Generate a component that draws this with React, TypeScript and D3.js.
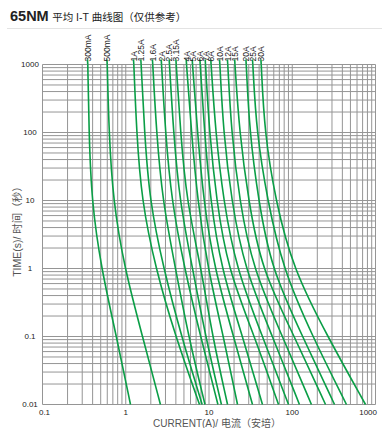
import React from 'react';
import * as d3 from 'd3';

// Time axis sample points (seconds) for every curve
const TIMES = [1000, 100, 10, 1, 0.1, 0.01];

// Fuse ratings (curve labels)
const RATINGS = ['300mA', '500mA', '1A', '1.25A', '1.6A', '2A', '2.5A', '3.15A', '4A', '5A', '6A', '7A', '8A', '10A', '12A', '15A', '20A', '25A', '30A'];

// Current (A) at each of TIMES
const I_300mA = [0.35, 0.362, 0.388, 0.507, 0.774, 1.14];
const I_500mA = [0.599, 0.629, 0.703, 0.966, 1.59, 2.61];
const I_1A = [1.25, 1.35, 1.55, 2.28, 3.96, 7.69];
const I_1_25A = [1.53, 1.68, 1.93, 2.84, 4.67, 8.28];
const I_1_6A = [2.11, 2.34, 2.76, 3.96, 5.67, 8.95];
const I_2A = [2.69, 3.0, 3.54, 5.08, 7.91, 12.8];
const I_2_5A = [3.35, 3.75, 4.42, 6.34, 9.08, 14.1];
const I_3_15A = [4.04, 4.55, 5.37, 8.06, 11.0, 16.7];
const I_4A = [5.37, 6.16, 7.28, 9.67, 14.9, 22.0];
const I_5A = [6.34, 7.28, 8.59, 11.6, 19.7, 33.3];
const I_6A = [7.84, 8.83, 10.4, 14.0, 25.3, 43.9];
const I_7A = [9.08, 10.1, 12.3, 16.8, 35.2, 68.4];
const I_8A = [10.6, 12.0, 14.9, 21.2, 43.9, 90.2];
const I_10A = [13.5, 14.9, 18.6, 26.7, 57.9, 122];
const I_12A = [16.8, 18.6, 23.2, 33.6, 76.3, 170];
const I_15A = [20.5, 23.2, 29.8, 42.4, 106, 251];
const I_20A = [28.0, 30.7, 39.3, 55.9, 133, 322];
const I_25A = [33.6, 37.2, 50.4, 77.0, 175, 448];
const I_30A = [42.4, 46.4, 62.9, 102, 265, 759];

const SERIES = [I_300mA, I_500mA, I_1A, I_1_25A, I_1_6A, I_2A, I_2_5A, I_3_15A, I_4A, I_5A, I_6A, I_7A, I_8A, I_10A, I_12A, I_15A, I_20A, I_25A, I_30A];

const X_TICKS = [0.1, 1, 10, 100, 1000];
const X_TICK_LABELS = ['0.1', '1', '10', '100', '1000'];
const Y_TICKS = [1000, 100, 10, 1, 0.1, 0.01];
const Y_TICK_LABELS = ['1000', '100', '10', '1', '0.1', '0.01'];

const W = 382;
const H = 428;
const LEFT = 42.5;
const RIGHT = 375.5;
const TOP = 64.5;
const BOTTOM = 404.5;

const FONT = "'Liberation Sans', Arial, 'Noto Sans CJK SC', sans-serif";
const GREEN = '#0a9e46';
const GRID = '#959595';

export default function App() {
  const x = d3.scaleLog().domain([0.1, 1000]).range([LEFT, RIGHT]);
  const y = d3.scaleLog().domain([0.01, 1000]).range([BOTTOM, TOP]);

  const xGrid: number[] = [];
  for (let d = 0.1; d < 1000; d *= 10) {
    for (let k = 1; k <= 9; k++) xGrid.push(+(k * d).toPrecision(3));
  }
  xGrid.push(1000);
  const yGrid: number[] = [];
  for (let d = 0.01; d < 1000; d *= 10) {
    for (let k = 1; k <= 9; k++) yGrid.push(+(k * d).toPrecision(3));
  }
  yGrid.push(1000);

  const line = d3
    .line<[number, number]>()
    .x((p) => x(p[0]))
    .y((p) => y(p[1]))
    .curve(d3.curveBasis);

  return (
    <svg
      width={W}
      height={H}
      style={{ position: 'absolute', left: 0, top: 0, background: '#fff' }}
      fontFamily={FONT}
    >
      <rect x={0} y={0} width={W} height={H} fill="#fff" />
      {/* Title */}
      <text x={10} y={21} fill="#222">
        <tspan fontSize={14.5} fontWeight="bold">65NM</tspan>
        <tspan fontSize={10.5} dx={3.5}>平均 I-T 曲线图（仅供参考）</tspan>
      </text>
      <line x1={7} x2={W} y1={28.5} y2={28.5} stroke="#e3e3e3" strokeWidth={1} />

      {/* Grid */}
      <rect x={LEFT} y={TOP} width={RIGHT - LEFT} height={BOTTOM - TOP} fill="#fff" />
      {xGrid.map((v, i) => (
        <line key={'gx' + i} x1={x(v)} x2={x(v)} y1={TOP} y2={BOTTOM} stroke={GRID} strokeWidth={1} />
      ))}
      {yGrid.map((v, i) => (
        <line key={'gy' + i} x1={LEFT} x2={RIGHT} y1={y(v)} y2={y(v)} stroke={GRID} strokeWidth={1} />
      ))}

      {/* Curves */}
      {SERIES.map((s, i) => {
        const pts: [number, number][] = s.map((c, j) => [c, TIMES[j]]);
        const x0 = x(s[0]);
        return (
          <g key={'c' + i}>
            <path d={line(pts) || ''} fill="none" stroke={GREEN} strokeWidth={1.6} />
            <line x1={x0} x2={x0 - 0.3} y1={y(TIMES[0])} y2={y(TIMES[0]) - 5} stroke={GREEN} strokeWidth={1.6} />
            <text
              transform={`translate(${x0 + 3},${y(TIMES[0]) - 3}) rotate(-90)`}
              fontSize={8.5}
              fill="#222"
            >
              {RATINGS[i]}
            </text>
          </g>
        );
      })}

      {/* Y tick labels */}
      {Y_TICKS.map((v, i) => (
        <text key={'yt' + i} x={30} y={y(v)} dy="0.35em" textAnchor="middle" fontSize={8} fill="#222">
          {Y_TICK_LABELS[i]}
        </text>
      ))}
      {/* X tick labels */}
      {X_TICKS.map((v, i) => {
        const last = i === X_TICKS.length - 1;
        const first = i === 0;
        return (
          <text
            key={'xt' + i}
            x={last ? x(v) + 1.5 : first ? x(v) + 2 : x(v)}
            y={415}
            textAnchor={last ? 'end' : 'middle'}
            fontSize={8}
            fill="#222"
          >
            {X_TICK_LABELS[i]}
          </text>
        );
      })}

      {/* Axis titles */}
      <text x={217} y={426.5} textAnchor="middle" fontSize={10} fill="#555">
        CURRENT(A)/ 电流（安培）
      </text>
      <text
        transform={`translate(17,229) rotate(-90)`}
        textAnchor="middle"
        dy="0.35em"
        fontSize={10.5}
        fill="#555"
      >
        TIME(s)/ 时间（秒）
      </text>
    </svg>
  );
}
